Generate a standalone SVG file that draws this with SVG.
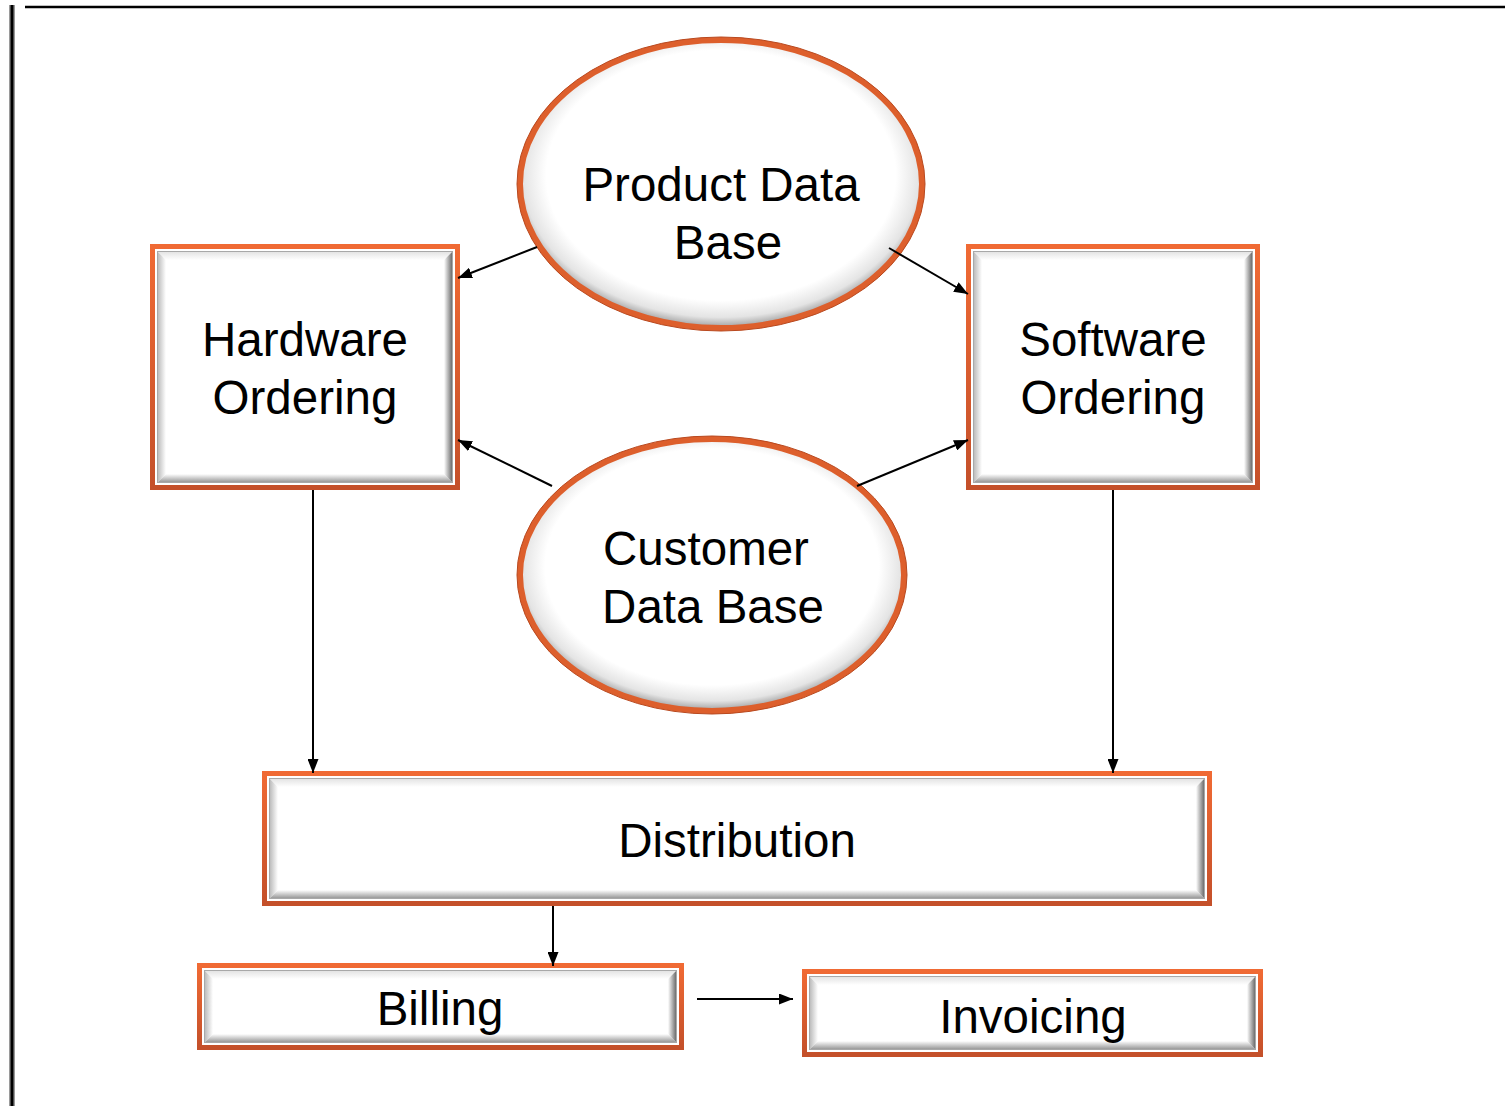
<svg xmlns="http://www.w3.org/2000/svg" width="1505" height="1106" viewBox="0 0 1505 1106">
  <defs>
    <style>
      .lbl { font-family: "Liberation Sans", Arial, sans-serif; font-size: 47.5px; fill: #000; text-anchor: middle; }
      .frame { fill: none; stroke: url(#orangeV); stroke-width: 5; }
      .face { fill: #fff; stroke: #a8a8a8; stroke-width: 1; }
      .bTop { fill: url(#bevTop); }
      .bLeft { fill: url(#bevLeft); }
      .bBottom { fill: url(#bevBottom); }
      .bRight { fill: url(#bevRight); }
      .ring { fill: url(#dbShade); stroke: #dd5f2c; stroke-width: 6; }
      .ringEdge { fill: none; stroke: #b9491f; stroke-width: 1; }
      .conn { stroke: #000; stroke-width: 2; fill: none; marker-end: url(#arrow); }
    </style>
    <linearGradient id="orangeV" x1="0" y1="0" x2="0" y2="1">
      <stop offset="0" stop-color="#f06a34"/>
      <stop offset="1" stop-color="#c4502a"/>
    </linearGradient>
    <linearGradient id="bevTop" x1="0" y1="0" x2="0" y2="1">
      <stop offset="0" stop-color="#e4e4e4"/>
      <stop offset="1" stop-color="#ffffff"/>
    </linearGradient>
    <linearGradient id="bevLeft" x1="0" y1="0" x2="1" y2="0">
      <stop offset="0" stop-color="#bdbdbd"/>
      <stop offset="1" stop-color="#ffffff"/>
    </linearGradient>
    <linearGradient id="bevBottom" x1="0" y1="0" x2="0" y2="1">
      <stop offset="0" stop-color="#ffffff"/>
      <stop offset="1" stop-color="#9a9a9a"/>
    </linearGradient>
    <linearGradient id="bevRight" x1="0" y1="0" x2="1" y2="0">
      <stop offset="0" stop-color="#ffffff"/>
      <stop offset="1" stop-color="#6e6e6e"/>
    </linearGradient>
    <radialGradient id="dbShade" cx="0.5" cy="0.47" r="0.53">
      <stop offset="0" stop-color="#ffffff"/>
      <stop offset="0.82" stop-color="#ffffff"/>
      <stop offset="0.93" stop-color="#e4e4e4"/>
      <stop offset="1" stop-color="#9c9c9c"/>
    </radialGradient>
    <marker id="arrow" viewBox="0 0 14 11" refX="14" refY="5.5" markerWidth="14" markerHeight="11" markerUnits="userSpaceOnUse" orient="auto">
      <path d="M0,0 L14,5.5 L0,11 Z" fill="#000"/>
    </marker>
  </defs>

  <!-- page rules -->
  <rect x="9" y="5" width="6" height="1101" fill="#9a9a9a"/>
  <rect x="10.5" y="5" width="3" height="1101" fill="#000"/>
  <line x1="25" y1="7" x2="1505" y2="7" stroke="#000" stroke-width="2.5"/>

  <!-- Product Data Base -->
  <g id="product-db">
    <ellipse class="ring" cx="721" cy="184" rx="201" ry="144"/>
    <ellipse class="ringEdge" cx="721" cy="184" rx="204" ry="147"/>
    <text class="lbl" x="721" y="201">Product Data</text>
    <text class="lbl" x="728" y="259">Base</text>
  </g>

  <!-- Customer Data Base -->
  <g id="customer-db">
    <ellipse class="ring" cx="712" cy="575" rx="192" ry="136"/>
    <ellipse class="ringEdge" cx="712" cy="575" rx="195" ry="139"/>
    <text class="lbl" x="706" y="565">Customer</text>
    <text class="lbl" x="713" y="623">Data Base</text>
  </g>

  <!-- Hardware Ordering -->
  <g id="hardware-ordering">
    <rect class="frame" x="152.5" y="246.5" width="305" height="241"/>
    <rect class="face" x="157.5" y="251.5" width="295" height="231"/>
    <polygon class="bTop" points="158,252 452,252 444,260 166,260"/>
    <polygon class="bLeft" points="158,252 166,260 166,474 158,482"/>
    <polygon class="bBottom" points="158,482 166,474 444,474 452,482"/>
    <polygon class="bRight" points="452,252 452,482 444,474 444,260"/>
    <text class="lbl" x="305" y="356">Hardware</text>
    <text class="lbl" x="305" y="414">Ordering</text>
  </g>

  <!-- Software Ordering -->
  <g id="software-ordering">
    <rect class="frame" x="968.5" y="246.5" width="289" height="241"/>
    <rect class="face" x="973.5" y="251.5" width="279" height="231"/>
    <polygon class="bTop" points="974,252 1252,252 1244,260 982,260"/>
    <polygon class="bLeft" points="974,252 982,260 982,474 974,482"/>
    <polygon class="bBottom" points="974,482 982,474 1244,474 1252,482"/>
    <polygon class="bRight" points="1252,252 1252,482 1244,474 1244,260"/>
    <text class="lbl" x="1113" y="356">Software</text>
    <text class="lbl" x="1113" y="414">Ordering</text>
  </g>

  <!-- Distribution -->
  <g id="distribution">
    <rect class="frame" x="264.5" y="773.5" width="945" height="130"/>
    <rect class="face" x="269.5" y="778.5" width="935" height="120"/>
    <polygon class="bTop" points="270,779 1204,779 1196,787 278,787"/>
    <polygon class="bLeft" points="270,779 278,787 278,890 270,898"/>
    <polygon class="bBottom" points="270,898 278,890 1196,890 1204,898"/>
    <polygon class="bRight" points="1204,779 1204,898 1196,890 1196,787"/>
    <text class="lbl" x="737" y="857">Distribution</text>
  </g>

  <!-- Billing -->
  <g id="billing">
    <rect class="frame" x="199.5" y="965.5" width="482" height="82"/>
    <rect class="face" x="204.5" y="970.5" width="472" height="72"/>
    <polygon class="bTop" points="205,971 676,971 668,979 213,979"/>
    <polygon class="bLeft" points="205,971 213,979 213,1034 205,1042"/>
    <polygon class="bBottom" points="205,1042 213,1034 668,1034 676,1042"/>
    <polygon class="bRight" points="676,971 676,1042 668,1034 668,979"/>
    <text class="lbl" x="440" y="1025">Billing</text>
  </g>

  <!-- Invoicing -->
  <g id="invoicing">
    <rect class="frame" x="804.5" y="971.5" width="456" height="83"/>
    <rect class="face" x="809.5" y="976.5" width="446" height="73"/>
    <polygon class="bTop" points="810,977 1255,977 1247,985 818,985"/>
    <polygon class="bLeft" points="810,977 818,985 818,1041 810,1049"/>
    <polygon class="bBottom" points="810,1049 818,1041 1247,1041 1255,1049"/>
    <polygon class="bRight" points="1255,977 1255,1049 1247,1041 1247,985"/>
    <text class="lbl" x="1033" y="1033">Invoicing</text>
  </g>

  <!-- connectors, drawn over the node outlines -->
  <g id="connectors">
    <line class="conn" x1="537" y1="247" x2="458" y2="278"/>
    <line class="conn" x1="889" y1="248" x2="968" y2="294"/>
    <line class="conn" x1="552" y1="486" x2="458" y2="440"/>
    <line class="conn" x1="857" y1="486" x2="968" y2="440"/>
    <line class="conn" x1="313" y1="490" x2="313" y2="773"/>
    <line class="conn" x1="1113" y1="490" x2="1113" y2="773"/>
    <line class="conn" x1="553" y1="906" x2="553" y2="966"/>
    <line class="conn" x1="697" y1="999" x2="793" y2="999"/>
  </g>
</svg>
